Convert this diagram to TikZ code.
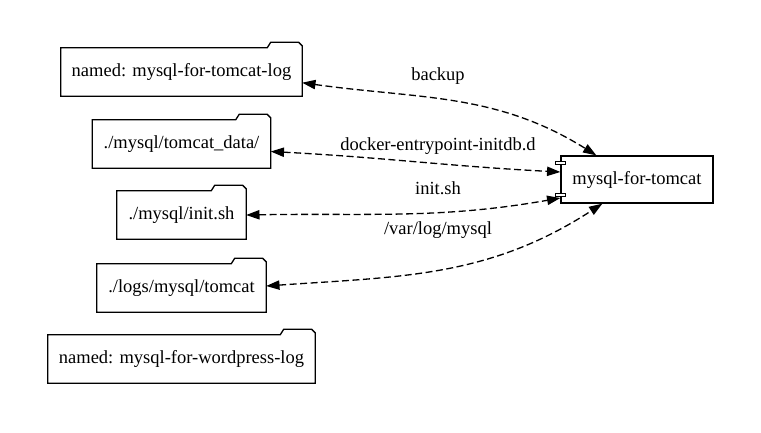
\documentclass[tikz,border=0pt]{standalone}
\usepackage{fontspec}
\setmainfont{Liberation Serif}
\usetikzlibrary{arrows.meta,positioning}
\definecolor{umlline}{RGB}{0,0,0}

\tikzset{
  folder/.style={inner sep=0pt, minimum height=48pt},
  outline/.style={draw=umlline, line width=1.3pt, line join=miter},
  comp/.style={draw=umlline, line width=1.3pt, inner sep=0pt},
  port/.style={draw=umlline, fill=white, line width=1.1pt},
  link/.style={draw=umlline, line width=1.3pt, dash pattern=on 7pt off 3.5pt,
    {Triangle[length=13.3pt,width=9.3pt]}-{Triangle[length=13.3pt,width=9.3pt]}},
  lbl/.style={inner sep=0pt}
}

\begin{document}
\begin{tikzpicture}[x=1pt,y=-1pt,font=\fontsize{18.5}{22}\selectfont]
	\useasboundingbox (0,0) rectangle (761,432);
	% volumes
	\node[folder, minimum width=241pt] (tomcatlog) at (181.5,72) {named: mysql-for-tomcat-log};
	\node[folder, minimum width=178pt] (tomcatdata) at (181.5,144) {./mysql/tomcat\_data/};
	\node[folder, minimum width=129pt] (initsh) at (181.5,215) {./mysql/init.sh};
	\node[folder, minimum width=169pt] (logdir) at (181.5,288) {./logs/mysql/tomcat};
	\node[folder, minimum width=267pt] (wplog) at (181.5,359) {named: mysql-for-wordpress-log};
	\foreach \f in {tomcatlog,tomcatdata,initsh,logdir,wplog}
		\draw[outline] (\f.north west) -- ([xshift=-35pt]\f.north east) -- ++(3.5pt,5.5pt)
			-- ([xshift=-3.5pt,yshift=5.5pt]\f.north east) -- ([yshift=2pt]\f.north east)
			-- (\f.south east) -- (\f.south west) -- cycle;

	% container
	\node[comp, minimum width=152pt, minimum height=47pt] (mysql) at (637,179.5) {mysql-for-tomcat};
	\draw[port] ([xshift=-5pt,yshift=-5.7pt]mysql.north west) rectangle ++(10pt,-3.6pt);
	\draw[port] ([xshift=-5pt,yshift=7pt]mysql.south west) rectangle ++(10pt,3.5pt);

	% mounts
	\node[lbl] (lbackup) at (438,76) {backup};
	\node[lbl] (ldocker) at (438,146) {docker-entrypoint-initdb.d};
	\node[lbl] (linit) at (438,188) {init.sh};
	\node[lbl] (lvarlog) at (438,230) {/var/log/mysql};

	\draw[link] ([yshift=-10.7pt]tomcatlog.east) to[out=-8,in=148] ([xshift=36pt]mysql.north west);
	\draw[link] ([yshift=-7.5pt]tomcatdata.east) to[out=-3,in=177] ([yshift=7.5pt]mysql.west);
	\draw[link] (initsh.east) to[out=1,in=190] ([yshift=-18.5pt]mysql.west);
	\draw[link] ([yshift=2pt]logdir.east) to[out=4,in=213] ([xshift=42pt]mysql.south west);
\end{tikzpicture}
\end{document}
